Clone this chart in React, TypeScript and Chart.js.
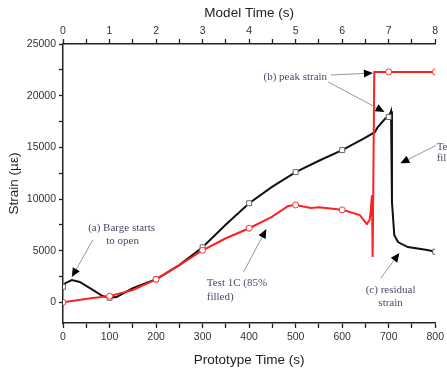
import React, { useEffect, useRef } from "react";
import { Chart, registerables } from "chart.js";
Chart.register(...registerables);

// Prototype time (s) and strain (µε) for the black test curve
const blackTime = [0, 5, 19, 36, 64, 85, 100, 115, 150, 200, 250, 300, 349, 400, 450, 500, 550, 600, 648, 670, 676, 693, 700, 705, 707, 712, 720, 741, 783, 800];
const blackStrain = [1500, 1850, 2150, 1970, 1200, 610, 440, 510, 1370, 2230, 3600, 5330, 7480, 9590, 11200, 12600, 13700, 14730, 15900, 16470, 16930, 17800, 17930, 18500, 9700, 6500, 5830, 5350, 5060, 4900];

// Test 1C (85% filled), red curve
const redTime = [0, 64, 100, 150, 200, 250, 300, 350, 400, 448, 484, 500, 533, 550, 600, 638, 646, 653, 659, 661, 664, 665.5, 669, 700, 800];
const redStrain = [0, 420, 600, 1200, 2230, 3600, 5040, 6200, 7170, 8250, 9320, 9420, 9120, 9200, 8950, 8450, 7970, 7580, 7970, 8750, 10350, 4380, 22300, 22300, 22300];

// Axis ticks
const yTickValues = [0, 2500, 5000, 7500, 10000, 12500, 15000, 17500, 20000, 22500, 25000];
const yLabelValues = [0, 5000, 10000, 15000, 20000, 25000];
const markerEvery = 100;

// Annotations (data coordinates: prototype time, strain)
const noteTexts = [
  { text: "(a) Barge starts", x: 126, y: 7190, align: "center" },
  { text: "to open", x: 128, y: 5930, align: "center" },
  { text: "Test 1C (85%", x: 309, y: 1870, align: "left" },
  { text: "filled)", x: 309, y: 510, align: "left" },
  { text: "(b) peak strain", x: 431, y: 21800, align: "left" },
  { text: "(c) residual", x: 704, y: 1190, align: "center" },
  { text: "strain", x: 704, y: -70, align: "center" },
  { text: "Test 1A (100%", x: 803, y: 15030, align: "left" },
  { text: "filled)", x: 803, y: 13970, align: "left" },
];
const noteArrows = [
  { from: [64, 6030], to: [19, 2450] },
  { from: [388, 2930], to: [437, 7090] },
  { from: [576, 22000], to: [666, 22190] },
  { from: [570, 21320], to: [691, 18420] },
  { from: [683, 2350], to: [723, 4770] },
  { from: [802, 15190], to: [725, 13450] },
];

const sans = "'Liberation Sans', Arial, sans-serif";

const notesPlugin = {
  id: "notes",
  afterDatasetsDraw(chart: any) {
    const { ctx } = chart;
    const xs = chart.scales.x;
    const ys = chart.scales.y;
    ctx.save();
    noteArrows.forEach((a) => {
      const x1 = xs.getPixelForValue(a.from[0]);
      const y1 = ys.getPixelForValue(a.from[1]);
      const x2 = xs.getPixelForValue(a.to[0]);
      const y2 = ys.getPixelForValue(a.to[1]);
      const ang = Math.atan2(y2 - y1, x2 - x1);
      const L = 9;
      const W = 4;
      ctx.strokeStyle = "#8c8c8c";
      ctx.lineWidth = 0.9;
      ctx.beginPath();
      ctx.moveTo(x1, y1);
      ctx.lineTo(x2 - Math.cos(ang) * L * 0.6, y2 - Math.sin(ang) * L * 0.6);
      ctx.stroke();
      const bx = x2 - Math.cos(ang) * L;
      const by = y2 - Math.sin(ang) * L;
      ctx.fillStyle = "#000";
      ctx.beginPath();
      ctx.moveTo(x2, y2);
      ctx.lineTo(bx - Math.sin(ang) * W, by + Math.cos(ang) * W);
      ctx.lineTo(bx + Math.sin(ang) * W, by - Math.cos(ang) * W);
      ctx.closePath();
      ctx.fill();
    });
    ctx.font = "11px 'Liberation Serif', 'Times New Roman', serif";
    ctx.fillStyle = "#4a4a6a";
    ctx.textBaseline = "middle";
    noteTexts.forEach((t) => {
      ctx.textAlign = t.align;
      ctx.fillText(t.text, xs.getPixelForValue(t.x), ys.getPixelForValue(t.y));
    });
    ctx.restore();
  },
};

const markerRadius = (size: number) => (c: any) =>
  c.raw && c.raw.x % markerEvery === 0 ? size : 0;

export default function App() {
  const ref = useRef<HTMLCanvasElement>(null);
  useEffect(() => {
    if (!ref.current) return;
    const tickCommon = {
      color: "#333",
      font: { family: sans, size: 10.5 },
    };
    const chart = new Chart(ref.current, {
      type: "line",
      data: {
        datasets: [
          {
            label: "Test 1C (85% filled)",
            data: redTime.map((t, i) => ({ x: t, y: redStrain[i] })),
            borderColor: "#ff2020",
            borderWidth: 2,
            pointStyle: "circle",
            pointRadius: markerRadius(3),
            pointBorderColor: "#ff3030",
            pointBackgroundColor: "#fff",
            pointBorderWidth: 1,
            tension: 0,
            xAxisID: "x",
            yAxisID: "y",
          },
          {
            label: "Test 1A",
            data: blackTime.map((t, i) => ({ x: t, y: blackStrain[i] })),
            borderColor: "#111",
            borderWidth: 2,
            pointStyle: "rect",
            pointRadius: markerRadius(3.5),
            pointBorderColor: "#666",
            pointBackgroundColor: "#fff",
            pointBorderWidth: 1,
            tension: 0,
            xAxisID: "x",
            yAxisID: "y",
          },
        ],
      },
      options: {
        animation: false,
        responsive: false,
        maintainAspectRatio: false,
        layout: { padding: { right: 9, left: 0, top: 0, bottom: 0 } },
        plugins: { legend: { display: false }, tooltip: { enabled: false } },
        scales: {
          x: {
            type: "linear",
            position: "bottom",
            min: 0,
            max: 800,
            afterFit: (s: any) => {
              s.height = 49;
            },
            ticks: {
              ...tickCommon,
              stepSize: 50,
              autoSkip: false,
              maxRotation: 0,
              padding: 3,
              callback: (v: any) => (v % 100 === 0 ? String(v) : ""),
            },
            grid: {
              drawOnChartArea: false,
              drawTicks: true,
              tickLength: 5,
              tickColor: "#222",
              tickWidth: 1.3,
            },
            border: { color: "#222", width: 1.5 },
            title: {
              display: true,
              text: "Prototype Time (s)",
              color: "#222",
              font: { family: sans, size: 13.5 },
              padding: { top: 0, bottom: 4 },
            },
          },
          x2: {
            type: "linear",
            position: "top",
            min: 0,
            max: 8,
            afterFit: (s: any) => {
              s.height = 44;
            },
            ticks: {
              ...tickCommon,
              stepSize: 0.5,
              autoSkip: false,
              maxRotation: 0,
              padding: 2,
              callback: (v: any) => (Number.isInteger(v) ? String(v) : ""),
            },
            grid: {
              drawOnChartArea: false,
              drawTicks: true,
              tickLength: 5,
              tickColor: "#222",
              tickWidth: 1.3,
            },
            border: { color: "#222", width: 1.5 },
            title: {
              display: true,
              text: "Model Time (s)",
              color: "#222",
              font: { family: sans, size: 13.5 },
              padding: { top: 5, bottom: 0 },
            },
          },
          y: {
            type: "linear",
            position: "left",
            min: -2000,
            max: 25000,
            afterFit: (s: any) => {
              s.width = 63;
            },
            afterBuildTicks: (s: any) => {
              s.ticks = yTickValues.map((v) => ({ value: v }));
            },
            ticks: {
              ...tickCommon,
              autoSkip: false,
              padding: 3,
              callback: (v: any) => (yLabelValues.includes(v) ? String(v) : ""),
            },
            grid: {
              drawOnChartArea: false,
              drawTicks: true,
              tickLength: 4,
              tickColor: "#222",
              tickWidth: 1.3,
            },
            border: { color: "#222", width: 1.5 },
            title: {
              display: true,
              text: "Strain (µε)",
              color: "#222",
              font: { family: sans, size: 13.5 },
              padding: { top: 6, bottom: 0 },
            },
          },
        },
      },
      plugins: [notesPlugin],
    } as any);
    return () => chart.destroy();
  }, []);
  return (
    <div style={{ position: "fixed", left: 0, top: 0, width: 447, height: 372, background: "#fff" }}>
      <canvas ref={ref} width={447} height={372} style={{ display: "block" }} />
    </div>
  );
}
